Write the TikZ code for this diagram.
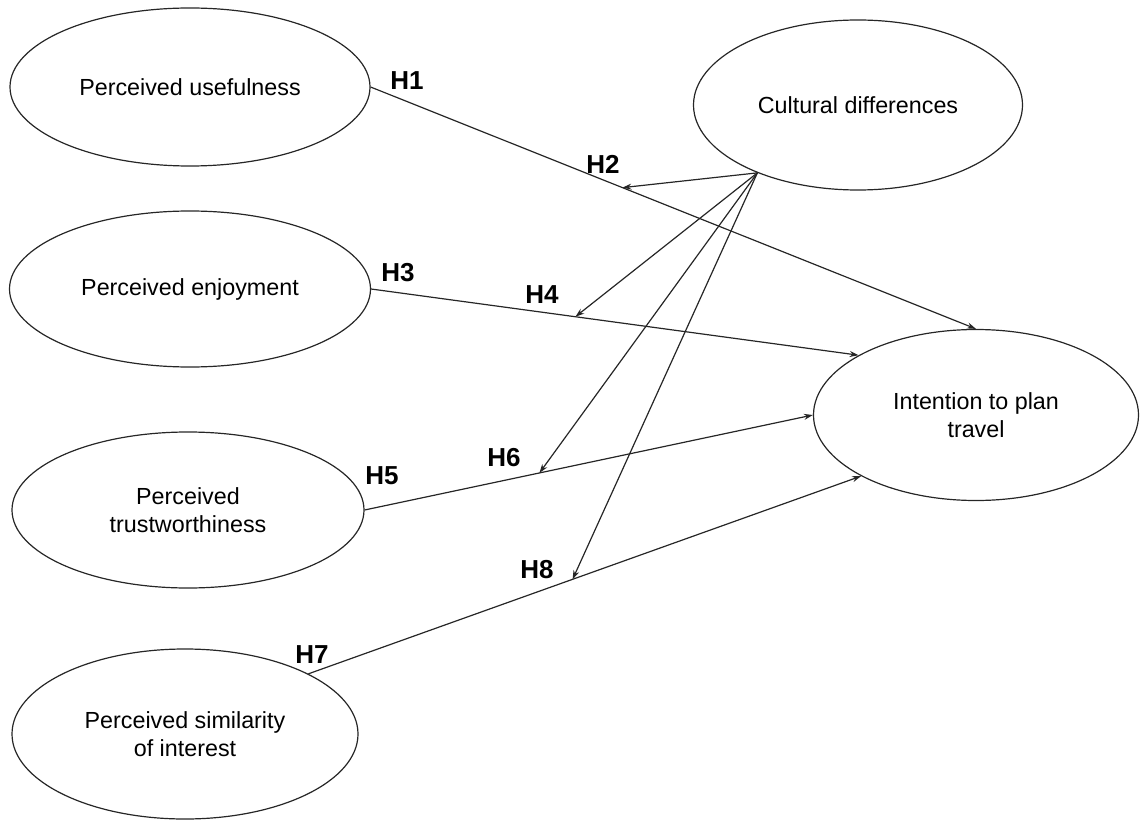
\documentclass[tikz,border=0pt]{standalone}
\usepackage{fontspec}
\setmainfont{Liberation Sans}
\usetikzlibrary{shapes.geometric,arrows.meta}
\begin{document}
\begin{tikzpicture}[x=1pt,y=-1pt,
  construct/.style={draw=black!85,line width=1.2pt,ellipse,inner sep=0pt,align=center,
    font=\fontsize{23.3}{27.5}\selectfont},
  arr/.style={draw=black!85,line width=1.2pt,-{Stealth[length=9pt,width=6pt]}},
  hlab/.style={font=\fontsize{26}{30}\selectfont\bfseries,inner sep=0pt}]
\useasboundingbox (0,0) rectangle (1140,821);
\node[construct,minimum width=360pt,minimum height=158pt] (PU) at (190,87) {Perceived usefulness};
\node[construct,minimum width=361pt,minimum height=156pt] (PE) at (190,289) {Perceived enjoyment};
\node[construct,minimum width=352pt,minimum height=156pt] (PT) at (188,510) {Perceived\\trustworthiness};
\node[construct,minimum width=346pt,minimum height=170pt] (PS) at (185,734) {Perceived similarity\\of interest};
\node[construct,minimum width=329pt,minimum height=170pt] (CD) at (858,105) {Cultural differences};
\node[construct,minimum width=325pt,minimum height=171pt] (ID) at (976,415) {Intention to plan\\travel};
% main paths
\draw[arr] (PU.east) -- coordinate[pos=0.416] (m2) (ID.north);
\draw[arr] (PE.east) -- coordinate[pos=0.419] (m4) (ID.153);
\draw[arr] (PT.east) -- coordinate[pos=0.39] (m6) (ID.west);
\draw[arr] (PS.26) -- coordinate[pos=0.478] (m8) (ID.208);
% moderator paths
\coordinate (cdo) at (CD.214);
\draw[arr] (cdo) -- (m2);
\draw[arr] (cdo) -- (m4);
\draw[arr] (cdo) -- (m6);
\draw[arr] (cdo) -- (m8);
% labels
\node[hlab] (H1) at (407,81) {H1};
\node[hlab] (H2) at (603,164) {H2};
\node[hlab] (H3) at (398,273) {H3};
\node[hlab] (H4) at (542,295) {H4};
\node[hlab] (H5) at (382,476) {H5};
\node[hlab] (H6) at (504,458) {H6};
\node[hlab] (H7) at (312,655) {H7};
\node[hlab] (H8) at (537,570) {H8};
\end{tikzpicture}
\end{document}
